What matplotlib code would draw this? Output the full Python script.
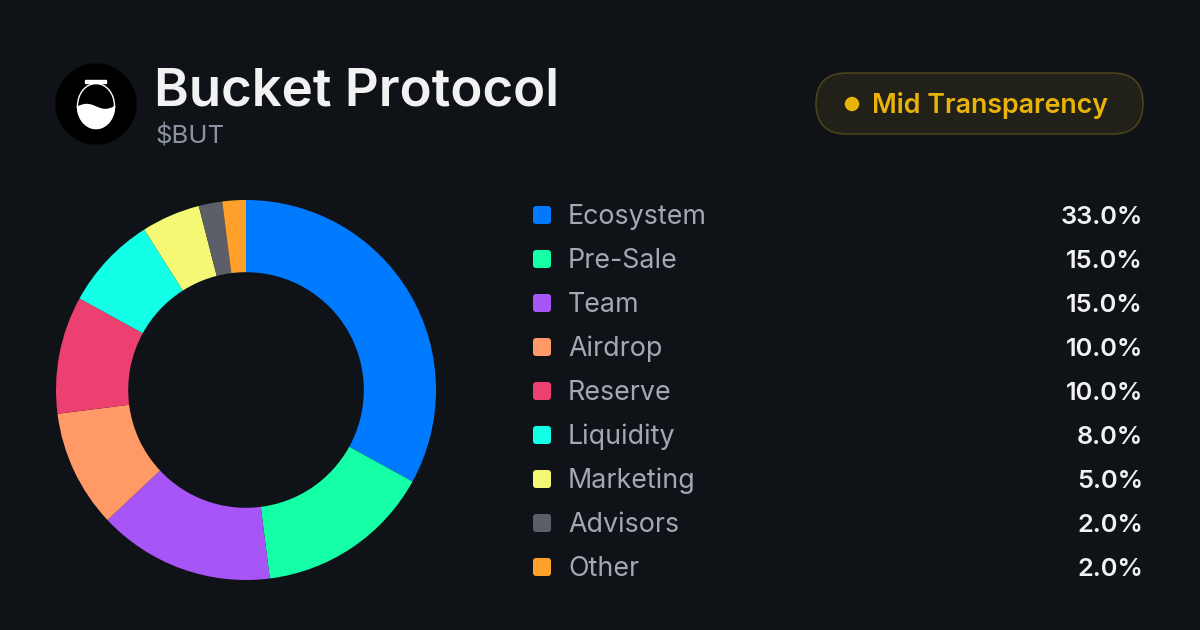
import numpy as np
import matplotlib.pyplot as plt
from matplotlib.patches import FancyBboxPatch, Circle, Ellipse, Rectangle, Polygon

plt.rcParams['font.family'] = ['Inter', 'DejaVu Sans']

# token allocation
labels = ['Ecosystem', 'Pre-Sale', 'Team', 'Airdrop', 'Reserve',
          'Liquidity', 'Marketing', 'Advisors', 'Other']
shares = [33.0, 15.0, 15.0, 10.0, 10.0, 8.0, 5.0, 2.0, 2.0]
colors = ['#007aff', '#14ffa6', '#a855f7', '#ff9966', '#ec4070',
          '#12ffe8', '#f5f874', '#5c5e68', '#ffa02a']

title = 'Bucket Protocol'
ticker = '$BUT'
badge = 'Mid Transparency'

bg = '#0f1217'
W, H = 1200, 630

fig = plt.figure(figsize=(12, 6.3), dpi=100, facecolor=bg)

# overlay axes in pixel coords (y down)
ax = fig.add_axes([0, 0, 1, 1])
ax.set_xlim(0, W)
ax.set_ylim(H, 0)
ax.axis('off')
ax.set_facecolor(bg)

# logo: black disc with a white bucket
ax.add_patch(Circle((96, 104), 40, color='black'))
ax.add_patch(Ellipse((96, 106), 37, 45, fill=False, ec='white', lw=1.0))
ax.add_patch(Rectangle((85, 80), 21, 3, color='white'))
t = np.linspace(0, np.pi, 60)
bx = 96 + 18.5 * np.cos(t)
by = 106 + 22.5 * np.sin(t)
wave_x = np.linspace(77.5, 114.5, 30)
wave_y = 107 - 2.5 * np.sin((wave_x - 77.5) / 37 * 2 * np.pi)
ax.add_patch(Polygon(np.column_stack([np.r_[bx, wave_x], np.r_[by, wave_y]]),
                     closed=True, color='white'))

ax.text(154, 105, title, color='#f2f2f2', fontsize=38, fontweight='semibold',
        va='baseline', ha='left')
ax.text(155, 143, ticker, color='#8b93a1', fontsize=18.5, va='baseline', ha='left')

# badge
ax.add_patch(FancyBboxPatch((816, 73), 327, 61,
                            boxstyle='round,pad=0,rounding_size=30.5',
                            fc='#212119', ec='#4a4218', lw=1.2))
ax.add_patch(Circle((852, 104), 6.5, color='#eab308'))
ax.text(872, 113, badge, color='#eab308', fontsize=19.3, fontweight='semibold',
        va='baseline', ha='left')

# legend
for i, (lab, val, c) in enumerate(zip(labels, shares, colors)):
    yc = 215 + i * 44
    ax.add_patch(FancyBboxPatch((533, yc - 9), 18, 18,
                                boxstyle='round,pad=0,rounding_size=3',
                                fc=c, ec='none'))
    ax.text(568, yc + 8.5, lab, color='#a3a8b3', fontsize=19.3,
            va='baseline', ha='left')
    ax.text(1143, yc + 8.5, f'{val:.1f}%', color='#f2f2f2', fontsize=18.3,
            fontweight='semibold', va='baseline', ha='right')

# donut
cx, cy, r = 246, 390, 190
pax = fig.add_axes([(cx - r) / W, (H - cy - r) / H, 2 * r / W, 2 * r / H])
pax.pie(shares, colors=colors, startangle=90, counterclock=False,
        radius=1, wedgeprops=dict(width=0.38, edgecolor='none', linewidth=0))
pax.set_xlim(-1, 1)
pax.set_ylim(-1, 1)
pax.set_aspect('equal')
pax.axis('off')

fig.savefig('out.png', dpi=100, facecolor=bg)
